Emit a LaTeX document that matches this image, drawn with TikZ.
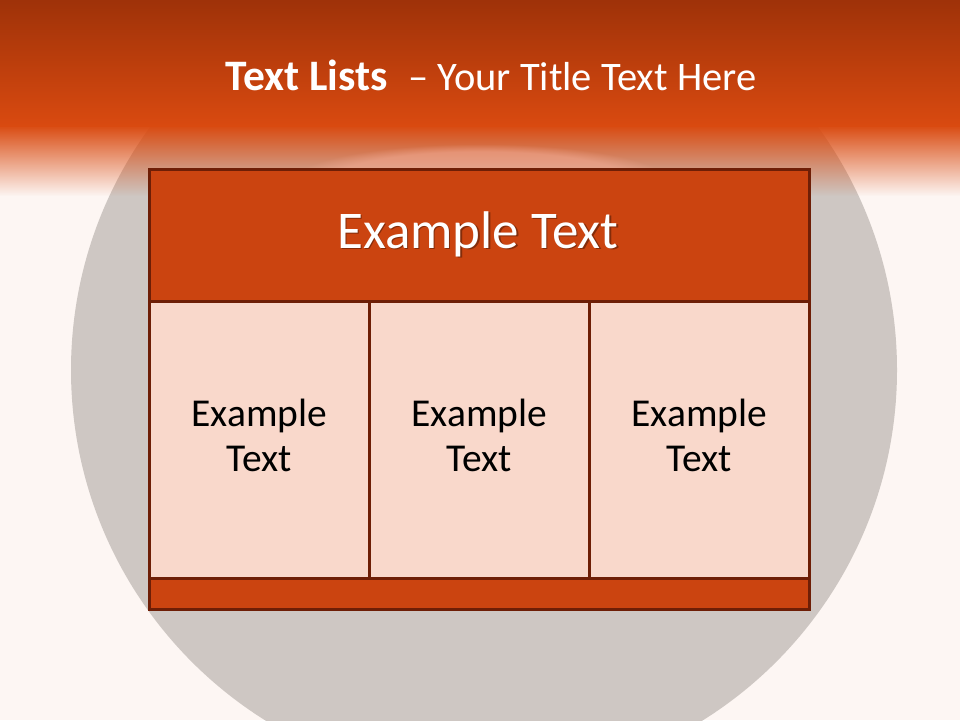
\documentclass[tikz,border=0pt]{standalone}
\usepackage{fontspec}
\setmainfont{Carlito}
\usetikzlibrary{fadings}
\definecolor{bg}{HTML}{FDF6F3}
\definecolor{circ}{HTML}{CEC7C3}
\definecolor{topdark}{HTML}{9A3008}
\definecolor{topor}{HTML}{D94A10}
\definecolor{hdr}{HTML}{CB4410}
\definecolor{cellfill}{HTML}{F9D8CB}
\definecolor{edge}{HTML}{6E1E06}
\definecolor{glow}{HTML}{F7AE98}
\tikzset{
  boxbase/.style={draw=edge, line width=3pt, inner sep=0pt, anchor=north west},
  hdrbox/.style={boxbase, fill=hdr, minimum width=660pt, minimum height=132pt},
  cellbox/.style={boxbase, fill=cellfill, minimum width=220pt, minimum height=277pt},
  barbox/.style={boxbase, fill=hdr, minimum width=660pt, minimum height=31pt},
  celltext/.style={align=center, text=black, font=\fontsize{39.5}{45}\selectfont, inner sep=0pt},
  hdrtext/.style={text=white, font=\fontsize{53}{60}\selectfont, inner sep=0pt, anchor=base},
  shadowtext/.style={text=black, opacity=0.35, font=\fontsize{53}{60}\selectfont, inner sep=0pt, anchor=base},
  titletext/.style={text=white, font=\fontsize{40.5}{50}\selectfont, inner sep=0pt, anchor=base}
}
\begin{document}
\begin{tikzpicture}[x=1pt,y=-1pt]
\useasboundingbox (0,0) rectangle (960,720);
\fill[bg] (0,0) rectangle (960,720);
\fill[circ] (484,370) circle (413pt);
\shade[top color=topdark, bottom color=topor] (-10,-10) rectangle (970,126);
\fill[topor, path fading=south] (-20,125) rectangle (980,196);
\fill[glow, opacity=0.5, path fading=circle with fuzzy edge 20 percent] (480,182) ellipse [x radius=190pt, y radius=38pt];
\node[titletext] (title) at (491,90) {{\fontsize{43.5}{50}\selectfont\bfseries Text Lists}\hspace{0.5em}– Your Title Text Here};
% box
\node[hdrbox] (hdr) at (148,168) {};
\node[cellbox] (c1) at (148,300) {};
\node[cellbox] (c2) at (368,300) {};
\node[cellbox] (c3) at (588,300) {};
\node[barbox] (bar) at (148,577) {};
\node[shadowtext] (hs) at ([xshift=1.5pt,yshift=-1.5pt]478,248) {Example Text};
\node[hdrtext] (ht) at (478,248) {Example Text};
\node[celltext] (t1) at ([yshift=5pt]c1.center) {Example\\Text};
\node[celltext] (t2) at ([yshift=5pt]c2.center) {Example\\Text};
\node[celltext] (t3) at ([yshift=5pt]c3.center) {Example\\Text};
\end{tikzpicture}
\end{document}
